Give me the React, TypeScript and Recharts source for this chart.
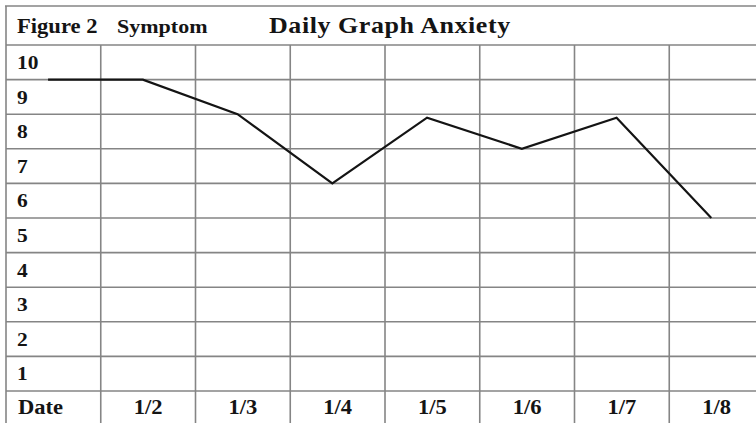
import React from "react";
import { LineChart, Line, XAxis, YAxis, CartesianGrid } from "recharts";

// ---- data ----
const dateLabels = ["Date", "1/2", "1/3", "1/4", "1/5", "1/6", "1/7", "1/8"];
const anxietyValues = [9, 9, 8, 6, 7.9, 7, 7.9, 5];
const rowTicks = [0, 1, 2, 3, 4, 5, 6, 7, 8, 9, 10];
const columnBoundaries = [-0.5, 0.5, 1.5, 2.5, 3.5, 4.5, 5.5, 6.5, 7.5];

const data = anxietyValues.map((value, idx) => ({ idx, date: dateLabels[idx], value }));

// ---- layout / style ----
const CHART_W = 770;
const CHART_H = 423;
const MARGIN = { top: 45, right: 6, bottom: 0, left: 5 };
const Y_W = 1;
const PLOT_W = CHART_W - MARGIN.left - MARGIN.right - Y_W;
const COL_W = PLOT_W / dateLabels.length;

const GRID = "#858585";
const INK = "#141414";
const FONT = "'Liberation Serif', 'Times New Roman', serif";

const RowTick = (props: any) => {
  const { x, y, payload } = props;
  if (payload.value === 0) return <g />;
  return (
    <text
      transform={`translate(${x + 11},${y + 24}) scale(1.13,1)`}
      fontFamily={FONT}
      fontWeight="bold"
      fontSize={19}
      fill={INK}
      textAnchor="start"
    >
      {payload.value}
    </text>
  );
};

const DateTick = (props: any) => {
  const { x, y, payload } = props;
  const b = payload.value as number;
  const i = Math.round(b + 0.5);
  if (i < 0 || i >= dateLabels.length) return <g />;
  const isFirst = i === 0;
  const tx = isFirst ? x + 12 : x + COL_W / 2;
  return (
    <text
      transform={`translate(${tx},${y - 32 + 23}) scale(1.1,1)`}
      fontFamily={FONT}
      fontWeight="bold"
      fontSize={20.5}
      fill={INK}
      textAnchor={isFirst ? "start" : "middle"}
    >
      {dateLabels[i]}
    </text>
  );
};

export default function App() {
  return (
    <div
      style={{
        position: "absolute",
        left: 0,
        top: 0,
        width: 756,
        height: 423,
        overflow: "hidden",
        background: "#fff",
      }}
    >
      <LineChart width={CHART_W} height={CHART_H} data={data} margin={MARGIN}>
        <CartesianGrid stroke={GRID} strokeWidth={1.6} />
        <XAxis
          type="number"
          dataKey="idx"
          domain={[-0.5, 7.5]}
          ticks={columnBoundaries}
          interval={0}
          height={32}
          tickSize={32}
          tickMargin={0}
          tick={<DateTick />}
          axisLine={false}
          stroke={GRID}
          tickLine={{ stroke: GRID, strokeWidth: 1.6 }}
        />
        <XAxis
          xAxisId="line"
          type="number"
          dataKey="idx"
          domain={[-0.444, 7.556]}
          hide
        />
        <YAxis
          type="number"
          domain={[0, 10]}
          ticks={rowTicks}
          interval={0}
          width={Y_W}
          tickSize={0}
          tickMargin={0}
          tick={<RowTick />}
          axisLine={false}
          tickLine={false}
        />
        <Line
          xAxisId="line"
          type="linear"
          dataKey="value"
          stroke={INK}
          strokeWidth={2.2}
          dot={false}
          activeDot={false}
          isAnimationActive={false}
        />
      </LineChart>
      <svg
        width={756}
        height={46}
        style={{ position: "absolute", left: 0, top: 0, pointerEvents: "none" }}
      >
        <line x1={5} y1={6} x2={756} y2={6} stroke={GRID} strokeWidth={1.6} />
        <line x1={6} y1={6} x2={6} y2={45} stroke={GRID} strokeWidth={1.6} />
        <text
          transform="translate(17,33) scale(1.13,1)"
          fontFamily={FONT}
          fontWeight="bold"
          fontSize={20}
          fill={INK}
        >
          Figure 2
        </text>
        <text
          transform="translate(117,33) scale(1.13,1)"
          fontFamily={FONT}
          fontWeight="bold"
          fontSize={19.5}
          fill={INK}
        >
          Symptom
        </text>
        <text
          transform="translate(269,33) scale(1.13,1)"
          fontFamily={FONT}
          fontWeight="bold"
          fontSize={23}
          letterSpacing={0.5}
          fill={INK}
        >
          Daily Graph Anxiety
        </text>
      </svg>
    </div>
  );
}
